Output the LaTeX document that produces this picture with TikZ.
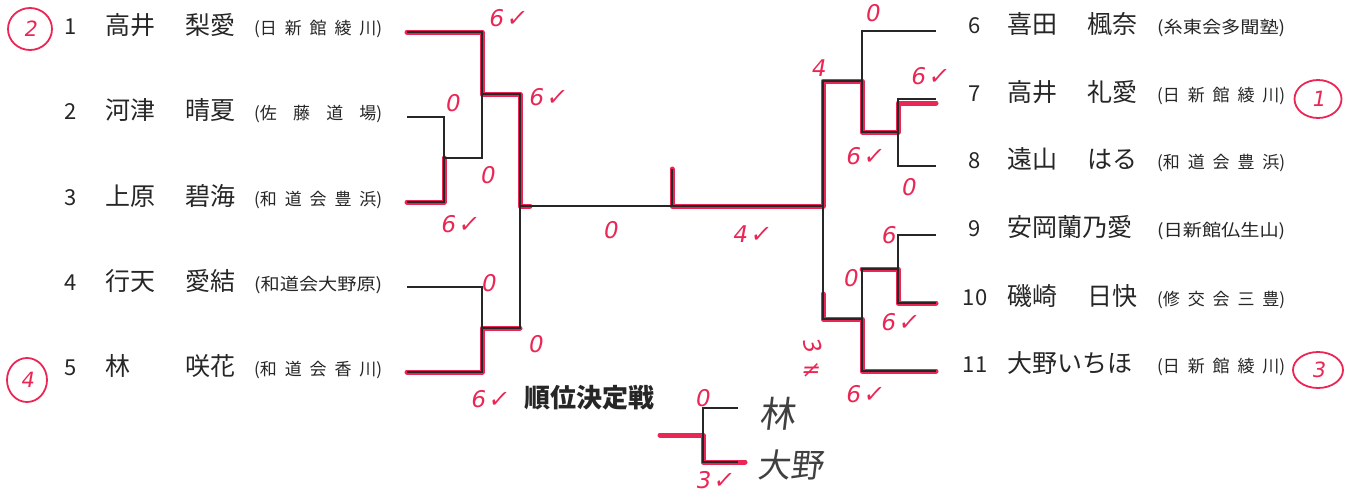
\documentclass[tikz,border=0pt]{standalone}
\usepackage{fontspec}
\usepackage{graphicx}
\usepackage{tikz}
\usetikzlibrary{calc}
\usetikzlibrary{shapes.geometric}
\setmainfont{Noto Sans CJK JP}
\newfontfamily\hand{DejaVu Sans}[FakeSlant=0.18]
\newfontfamily\jhand{Noto Sans CJK JP}[FakeSlant=0.12]
\definecolor{pen}{RGB}{234,38,84}
\colorlet{ink}{black!85}
\newcommand\chk{\kern3pt{\fontsize{24}{24}\selectfont ✓}}
\newcommand\affs[1]{\makebox[128pt][s]{#1}}
\newcommand\affc[1]{\resizebox{128pt}{\height}{#1}}
\tikzstyle{num}=[font=\fontsize{22}{22}\selectfont,inner sep=0pt,text height=.73em,text depth=0pt,ink]
\tikzstyle{nm}=[font=\fontsize{25}{25}\selectfont,inner sep=0pt,text height=.84em,text depth=.08em,ink]
\tikzstyle{club}=[font=\fontsize{17}{17}\selectfont,inner sep=0pt,text height=.84em,text depth=.08em,ink]
\tikzstyle{ln}=[line width=1.1pt,ink]
\tikzstyle{win}=[line width=5pt,pen,line cap=round,line join=round]
\tikzstyle{sc}=[pen,font=\hand\fontsize{23}{23}\selectfont,inner sep=0pt]
\tikzstyle{rank}=[ellipse,draw=pen,line width=1.8pt,inner sep=0pt,pen,font=\hand\fontsize{21}{21}\selectfont]
\tikzstyle{scrawl}=[font=\jhand\fontsize{36}{36}\selectfont,black!75,inner sep=0pt]

\begin{document}
\begin{tikzpicture}[x=1pt,y=-1pt]
  \useasboundingbox (0,0) rectangle (1360,496);
  % left block
  \node[num] (n1) at (71,31) {1};
  \node[nm,anchor=west] (f1) at (105,31) {高井};
  \node[nm,anchor=east] (g1) at (236,31) {梨愛};
  \node[club,anchor=west] (c1) at (254,31) {\affs{(日 新 館 綾 川)}};
  \node[num] (n2) at (71,116) {2};
  \node[nm,anchor=west] (f2) at (105,116) {河津};
  \node[nm,anchor=east] (g2) at (236,116) {晴夏};
  \node[club,anchor=west] (c2) at (254,116) {\affs{(佐 藤 道 場)}};
  \node[num] (n3) at (71,202) {3};
  \node[nm,anchor=west] (f3) at (105,202) {上原};
  \node[nm,anchor=east] (g3) at (236,202) {碧海};
  \node[club,anchor=west] (c3) at (254,202) {\affs{(和 道 会 豊 浜)}};
  \node[num] (n4) at (71,287) {4};
  \node[nm,anchor=west] (f4) at (105,287) {行天};
  \node[nm,anchor=east] (g4) at (236,287) {愛結};
  \node[club,anchor=west] (c4) at (254,287) {\affc{(和道会大野原)}};
  \node[num] (n5) at (71,372) {5};
  \node[nm,anchor=west] (f5) at (105,372) {林};
  \node[nm,anchor=east] (g5) at (236,372) {咲花};
  \node[club,anchor=west] (c5) at (254,372) {\affs{(和 道 会 香 川)}};
  % right block
  \node[num] (n6) at (975,30) {6};
  \node[nm,anchor=west] (f6) at (1007,30) {喜田};
  \node[nm,anchor=east] (g6) at (1138,30) {楓奈};
  \node[club,anchor=west] (c6) at (1157,30) {\affc{(糸東会多聞塾)}};
  \node[num] (n7) at (975,98) {7};
  \node[nm,anchor=west] (f7) at (1007,98) {高井};
  \node[nm,anchor=east] (g7) at (1138,98) {礼愛};
  \node[club,anchor=west] (c7) at (1157,98) {\affs{(日 新 館 綾 川)}};
  \node[num] (n8) at (975,165) {8};
  \node[nm,anchor=west] (f8) at (1007,165) {遠山};
  \node[nm,anchor=east] (g8) at (1138,165) {はる};
  \node[club,anchor=west] (c8) at (1157,165) {\affs{(和 道 会 豊 浜)}};
  \node[num] (n9) at (975,233) {9};
  \node[nm,anchor=west] (f9) at (1007,233) {安岡蘭乃愛};
  \node[club,anchor=west] (c9) at (1157,233) {\affc{(日新館仏生山)}};
  \node[num] (n10) at (975,302) {10};
  \node[nm,anchor=west] (f10) at (1007,302) {磯崎};
  \node[nm,anchor=east] (g10) at (1138,302) {日快};
  \node[club,anchor=west] (c10) at (1157,302) {\affs{(修 交 会 三 豊)}};
  \node[num] (n11) at (975,369) {11};
  \node[nm,anchor=west] (f11) at (1007,369) {大野いちほ};
  \node[club,anchor=west] (c11) at (1157,369) {\affs{(日 新 館 綾 川)}};
  % line ends and joints
  \coordinate (p1) at (407,32);  \coordinate (p2) at (407,117);
  \coordinate (p3) at (407,202); \coordinate (p4) at (407,287);
  \coordinate (p5) at (407,372);
  \coordinate (a23) at (444,158); \coordinate (a123) at (482,94);
  \coordinate (a45) at (482,328); \coordinate (L) at (520,206);
  \coordinate (p6) at (936,31);  \coordinate (p7) at (936,99);
  \coordinate (p8) at (936,166); \coordinate (p9) at (936,235);
  \coordinate (p10) at (936,303); \coordinate (p11) at (936,371);
  \coordinate (b78) at (898,132); \coordinate (b678) at (862,81);
  \coordinate (b910) at (898,269); \coordinate (b911) at (862,319);
  \coordinate (R) at (823,206);
  \coordinate (c) at (672,206); \coordinate (ct) at (672,169);
  % winners in pen
  \draw[win] (p1) -| (a123) -| (L) -- ++(10,0);
  \draw[win] (p3) -| (a23);
  \draw[win] (p5) -| (a45) -- (a45 -| L);
  \draw[win] (ct) -- (c) -- (R) |- (b678) |- (b78) |- ($(p7)+(0,4)$);
  \draw[win] (p10) -| (b910) -- (b910 -| b911);
  \draw[win] (p11) -| (b911) -- (b911 -| R) -- ++(0,-25);
  % bracket
  \draw[ln] (p2) -| (a23) |- (p3);
  \draw[ln] (p1) -| (a123) |- (a23);
  \draw[ln] (p4) -| (a45) |- (p5);
  \draw[ln] (a123) -| (L) |- (a45);
  \draw[ln] (L) -- (R);
  \draw[ln] (c) -- (ct);
  \draw[ln] (p7) -| (b78) |- (p8);
  \draw[ln] (p6) -| (b678) |- (b78);
  \draw[ln] (p9) -| (b910) |- (p10);
  \draw[ln] (p11) -| (b911) |- (b910);
  \draw[ln] (b678) -| (R) |- (b911);
  % play-off for 3rd
  \node[font=\bfseries\fontsize{26}{26}\selectfont,anchor=west,inner sep=0pt,ink] (po) at (524,398) {順位決定戦};
  \coordinate (q1) at (738,408); \coordinate (q2) at (738,462);
  \coordinate (bj) at (703,435); \coordinate (bs) at (660,435);
  \draw[win] (bs) -- (bj) |- ($(q2)+(7,0)$);
  \draw[ln] (q1) -| (bj) |- (q2);
  \node[scrawl] (h1) at (777,414) {林};
  \node[scrawl,font=\jhand\fontsize{33}{33}\selectfont] (h2) at (790,465) {大野};
  % scores
  \node[sc] (s1) at (507,18) {6\chk};
  \node[sc] (s2) at (547,97) {6\chk};
  \node[sc] (s3) at (452,103) {0};
  \node[sc] (s4) at (487,175) {0};
  \node[sc] (s5) at (459,224) {6\chk};
  \node[sc] (s6) at (610,230) {0};
  \node[sc] (s7) at (488,283) {0};
  \node[sc] (s8) at (535,344) {0};
  \node[sc] (s9) at (489,399) {6\chk};
  \node[sc] (s10) at (751,234) {4\chk};
  \node[sc] (s11) at (818,68) {4};
  \node[sc] (s12) at (872,13) {0};
  \node[sc] (s13) at (929,76) {6\chk};
  \node[sc] (s14) at (864,156) {6\chk};
  \node[sc] (s15) at (908,187) {0};
  \node[sc] (s16) at (888,235) {6};
  \node[sc] (s17) at (850,278) {0};
  \node[sc] (s18) at (899,322) {6\chk};
  \node[sc,rotate=-75] (s19) at (812,344) {3};
  \node[sc] (s20) at (810,371) {≠};
  \node[sc] (s21) at (864,394) {6\chk};
  \node[sc] (s22) at (702,398) {0};
  \node[sc] (s23) at (714,480) {3\chk};
  % final places
  \node[rank,minimum width=44pt,minimum height=42pt] (r2) at (30,29) {2};
  \node[rank,minimum width=40pt,minimum height=44pt] (r4) at (27,380) {4};
  \node[rank,minimum width=47pt,minimum height=38pt] (r1) at (1318,99) {1};
  \node[rank,minimum width=50pt,minimum height=36pt] (r3) at (1318,370) {3};
\end{tikzpicture}
\end{document}
